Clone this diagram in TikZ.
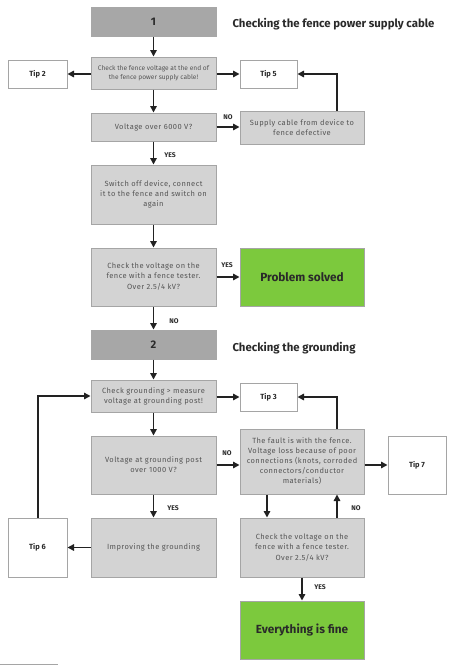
\documentclass[tikz,border=0pt]{standalone}
\usepackage{fontspec}
\setmainfont{Fira Sans}
\newfontfamily\spaced[LetterSpace=6]{Fira Sans}
\usetikzlibrary{arrows.meta,positioning,calc}
\definecolor{boxfill}{HTML}{D3D3D3}
\definecolor{boxline}{HTML}{A5A5A5}
\definecolor{headfill}{HTML}{A7A7A7}
\definecolor{okgreen}{HTML}{7CC93D}
\definecolor{bodytext}{HTML}{555555}
\definecolor{darktext}{HTML}{2A2A2A}
\definecolor{arrowcol}{HTML}{222222}
\tikzset{
  gbox/.style={draw=boxline, line width=1pt, fill=boxfill, align=center, text=bodytext,
    font=\spaced\fontsize{7.5}{10}\selectfont, inner sep=2pt},
  headbox/.style={draw=headfill, line width=1pt, fill=headfill, text=darktext,
    font=\fontsize{11}{12}\selectfont\bfseries},
  tipbox/.style={draw=boxline, line width=1pt, fill=white, text=darktext,
    font=\fontsize{7.5}{8}\selectfont\bfseries},
  greenbox/.style={draw=boxline, line width=1pt, fill=okgreen, text=darktext,
    font=\fontsize{11.8}{13}\selectfont\bfseries},
  titletext/.style={anchor=west, text=darktext, font=\fontsize{11.4}{13}\selectfont\bfseries},
  lab/.style={text=darktext, font=\fontsize{6.8}{7}\selectfont\bfseries, inner sep=1pt},
  arr/.style={draw=arrowcol, line width=1.5pt, -{Triangle[length=6.5pt,width=6.5pt]}},
}
\begin{document}
\begin{tikzpicture}[x=1pt,y=-1pt]
\useasboundingbox (0,0) rectangle (453,667);
% Section 1
\node[headbox, minimum width=125pt, minimum height=29pt] (n1) at (153.5,21.5) {1};
\node[titletext] (t1) at (229,24) {Checking the fence power supply cable};
\node[gbox, minimum width=125pt, minimum height=32pt, font=\fontsize{6.6}{8.5}\selectfont] (c1) at (153.5,73)
  {Check the fence voltage at the end of\\the fence power supply cable!};
\node[tipbox, minimum width=59pt, minimum height=28pt] (tip2) at (37.5,74) {Tip 2};
\node[tipbox, minimum width=57pt, minimum height=28pt] (tip5) at (268.5,74) {Tip 5};
\node[gbox, minimum width=125pt, minimum height=28pt] (v1) at (153.5,127) {Voltage over 6000 V?};
\node[gbox, minimum width=124pt, minimum height=33pt] (sc) at (302,127.5)
  {Supply cable from device to\\fence defective};
\node[gbox, minimum width=125pt, minimum height=59pt] (sw) at (153.5,194.5)
  {Switch off device, connect\\it to the fence and switch on\\again};
\node[gbox, minimum width=125pt, minimum height=58pt] (ck1) at (153.5,277)
  {Check the voltage on the\\fence with a fence tester.\\[1pt]Over 2.5/4 kV?};
\node[greenbox, minimum width=124pt, minimum height=58pt] (ps) at (302,277) {Problem solved};
% Section 2
\node[headbox, minimum width=125pt, minimum height=29pt] (n2) at (153.5,344.5) {2};
\node[titletext] (t2) at (229,348) {Checking the grounding};
\node[gbox, minimum width=125pt, minimum height=32pt] (cg) at (153.5,396)
  {Check grounding > measure\\voltage at grounding post!};
\node[tipbox, minimum width=57pt, minimum height=28pt] (tip3) at (268.5,397) {Tip 3};
\node[gbox, minimum width=125pt, minimum height=58pt] (vg) at (153.5,465)
  {Voltage at grounding post\\over 1000 V?};
\node[gbox, minimum width=124pt, minimum height=65pt] (fault) at (302,461.5)
  {The fault is with the fence.\\Voltage loss because of poor\\connections (knots, corroded\\connectors/conductor\\materials)};
\node[tipbox, minimum width=58pt, minimum height=58pt] (tip7) at (417,465) {Tip 7};
\node[gbox, minimum width=125pt, minimum height=59pt] (ig) at (153.5,547.5) {Improving the grounding};
\node[tipbox, minimum width=59pt, minimum height=59pt] (tip6) at (37.5,547.5) {Tip 6};
\node[gbox, minimum width=124pt, minimum height=59pt] (ck2) at (302,547.5)
  {Check the voltage on the\\fence with a fence tester.\\[1pt]Over 2.5/4 kV?};
\node[greenbox, minimum width=124pt, minimum height=58pt] (ef) at (302,630) {Everything is fine};
% connector labels
\node[lab] (l1) at (228,117.5) {NO};
\node[lab] (l2) at (170,155) {YES};
\node[lab] (l3) at (227,265.5) {YES};
\node[lab] (l4) at (174,321) {NO};
\node[lab] (l5) at (227,453.5) {NO};
\node[lab] (l6) at (173,508) {YES};
\node[lab] (l7) at (356,508) {NO};
\node[lab] (l8) at (320,587) {YES};
% helper coordinates
\coordinate (xr) at (337,0);
\coordinate (xl) at (267,0);
\coordinate (x6) at (38,0);
% Connectors section 1
\draw[arr] (n1.south) -- (c1.north);
\draw[arr] (c1.west |- tip2.east) -- (tip2.east);
\draw[arr] (c1.east |- tip5.west) -- (tip5.west);
\draw[arr] (c1.south) -- (v1.north);
\draw[arr] (v1.east) -- (v1.east -| sc.west);
\draw[arr] (sc.north -| xr) |- (tip5.east);
\draw[arr] (v1.south) -- (sw.north);
\draw[arr] (sw.south) -- (ck1.north);
\draw[arr] (ck1.east) -- (ps.west);
\draw[arr] (ck1.south) -- (n2.north);
% Connectors section 2
\draw[arr] (n2.south) -- (cg.north);
\draw[arr] (cg.east |- tip3.west) -- (tip3.west);
\draw[arr] (cg.south) -- (vg.north);
\draw[arr] (vg.east) -- (vg.east -| fault.west);
\draw[arr] (tip7.west -| fault.east) -- (tip7.west);
\draw[arr] (fault.north -| xr) |- (tip3.east);
\draw[arr] (fault.south -| xl) -- (ck2.north -| xl);
\draw[arr] (ck2.north -| xr) -- (fault.south -| xr);
\draw[arr] (vg.south) -- (ig.north);
\draw[arr] (ig.west) -- (tip6.east);
\draw[arr] (tip6.north -| x6) |- (cg.west);
\draw[arr] (ck2.south) -- (ef.north);
% footnote rule
\coordinate (fr0) at (0,664);
\coordinate (fr1) at (58,664);
\draw[draw=boxline, line width=0.7pt] (fr0) -- (fr1);
\end{tikzpicture}
\end{document}
